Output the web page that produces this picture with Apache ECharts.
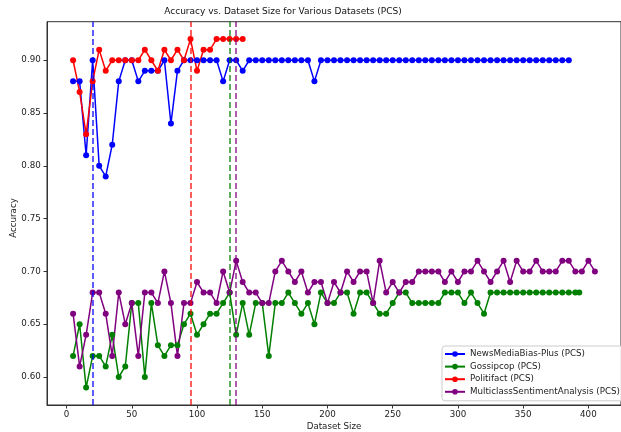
<!DOCTYPE html>
<html>
<head>
<meta charset="utf-8">
<script src="https://cdn.jsdelivr.net/npm/echarts@6/dist/echarts.min.js"></script>
<style>
html,body{margin:0;padding:0;background:#fff;}
#chart{width:621px;height:432px;}
</style>
</head>
<body>
<div id="chart"></div>
<script>
// ---- Data ----
const seriesNames = ["NewsMediaBias-Plus (PCS)", "Gossipcop (PCS)", "Politifact (PCS)", "MulticlassSentimentAnalysis (PCS)"];
const seriesColors = ["#0000ff", "#008000", "#ff0000", "#800080"];

const newsSizes = [5,10,15,20,25,30,35,40,45,50,55,60,65,70,75,80,85,90,95,100,105,110,115,120,125,130,135,140,145,150,155,160,165,170,175,180,185,190,195,200,205,210,215,220,225,230,235,240,245,250,255,260,265,270,275,280,285,290,295,300,305,310,315,320,325,330,335,340,345,350,355,360,365,370,375,380,385];
const newsAcc = [0.88,0.88,0.81,0.90,0.80,0.79,0.82,0.88,0.90,0.90,0.88,0.89,0.89,0.89,0.90,0.84,0.89,0.90,0.90,0.90,0.90,0.90,0.90,0.88,0.90,0.90,0.89,0.90,0.90,0.90,0.90,0.90,0.90,0.90,0.90,0.90,0.90,0.88,0.90,0.90,0.90,0.90,0.90,0.90,0.90,0.90,0.90,0.90,0.90,0.90,0.90,0.90,0.90,0.90,0.90,0.90,0.90,0.90,0.90,0.90,0.90,0.90,0.90,0.90,0.90,0.90,0.90,0.90,0.90,0.90,0.90,0.90,0.90,0.90,0.90,0.90,0.90];

const gossipSizes = [5,10,15,20,25,30,35,40,45,50,55,60,65,70,75,80,85,90,95,100,105,110,115,120,125,130,135,140,145,150,155,160,165,170,175,180,185,190,195,200,205,210,215,220,225,230,235,240,245,250,255,260,265,270,275,280,285,290,295,300,305,310,315,320,325,330,335,340,345,350,355,360,365,370,375,380,385,390,393];
const gossipAcc = [0.62,0.65,0.59,0.62,0.62,0.61,0.64,0.60,0.61,0.67,0.67,0.60,0.67,0.63,0.62,0.63,0.63,0.65,0.66,0.64,0.65,0.66,0.66,0.67,0.68,0.64,0.67,0.64,0.67,0.67,0.62,0.67,0.67,0.68,0.67,0.66,0.67,0.65,0.68,0.67,0.67,0.68,0.68,0.66,0.68,0.68,0.67,0.66,0.66,0.67,0.68,0.68,0.67,0.67,0.67,0.67,0.67,0.68,0.68,0.68,0.67,0.68,0.67,0.66,0.68,0.68,0.68,0.68,0.68,0.68,0.68,0.68,0.68,0.68,0.68,0.68,0.68,0.68,0.68];

const politiSizes = [5,10,15,20,25,30,35,40,45,50,55,60,65,70,75,80,85,90,95,100,105,110,115,120,125,130,135];
const politiAcc = [0.90,0.87,0.83,0.88,0.91,0.89,0.90,0.90,0.90,0.90,0.90,0.91,0.90,0.89,0.91,0.90,0.91,0.90,0.92,0.89,0.91,0.91,0.92,0.92,0.92,0.92,0.92];

const multiSizes = [5,10,15,20,25,30,35,40,45,50,55,60,65,70,75,80,85,90,95,100,105,110,115,120,125,130,135,140,145,150,155,160,165,170,175,180,185,190,195,200,205,210,215,220,225,230,235,240,245,250,255,260,265,270,275,280,285,290,295,300,305,310,315,320,325,330,335,340,345,350,355,360,365,370,375,380,385,390,395,400,405];
const multiAcc = [0.66,0.61,0.64,0.68,0.68,0.66,0.62,0.68,0.65,0.67,0.62,0.68,0.68,0.67,0.70,0.67,0.62,0.67,0.67,0.69,0.68,0.68,0.67,0.70,0.68,0.71,0.69,0.68,0.68,0.67,0.67,0.70,0.71,0.70,0.69,0.70,0.68,0.69,0.69,0.67,0.69,0.68,0.70,0.69,0.70,0.70,0.67,0.71,0.68,0.69,0.68,0.69,0.69,0.70,0.70,0.70,0.70,0.69,0.70,0.69,0.70,0.70,0.71,0.70,0.69,0.70,0.71,0.69,0.71,0.70,0.70,0.71,0.70,0.70,0.70,0.71,0.71,0.70,0.70,0.71,0.70];

// best dataset size per series (vertical dashed lines)
const bestSizes = [20, 125, 95, 130];

const xTicks = [0, 50, 100, 150, 200, 250, 300, 350, 400];
const yTicks = [0.60, 0.65, 0.70, 0.75, 0.80, 0.85, 0.90];

const titleText = "Accuracy vs. Dataset Size for Various Datasets (PCS)";
const xLabel = "Dataset Size";
const yLabel = "Accuracy";

// ---- Build ----
const allSizes = [newsSizes, gossipSizes, politiSizes, multiSizes];
const allAcc = [newsAcc, gossipAcc, politiAcc, multiAcc];
const FONT = "DejaVu Sans";
const FS = 8.7;

const series = seriesNames.map((name, i) => ({
  name: name,
  type: 'line',
  data: allSizes[i].map((x, k) => [x, allAcc[i][k]]),
  symbol: 'circle',
  symbolSize: 6,
  showSymbol: true,
  showAllSymbol: true,
  itemStyle: { color: seriesColors[i] },
  lineStyle: { color: seriesColors[i], width: 1.5 },
  emphasis: { disabled: true },
  markLine: {
    silent: true,
    symbol: ['none', 'none'],
    label: { show: false },
    animation: false,
    lineStyle: { color: seriesColors[i], type: [6, 3], width: 1.5, opacity: 0.85 },
    data: [{ xAxis: bestSizes[i] }]
  },
  animation: false
}));

const chart = echarts.init(document.getElementById('chart'), null, { renderer: 'canvas' });
chart.setOption({
  animation: false,
  textStyle: { fontFamily: FONT },
  grid: {
    left: 47, top: 21.7, width: 578.6, height: 383.3,
    show: true, borderColor: '#333', borderWidth: 1, backgroundColor: 'transparent'
  },
  xAxis: {
    type: 'value', min: -15, max: 425,
    axisLine: { show: true, onZero: false, lineStyle: { color: '#333', width: 1 } },
    axisTick: { show: true, length: 3.5, inside: false, customValues: xTicks, lineStyle: { color: '#333' } },
    axisLabel: { customValues: xTicks, fontSize: FS, color: '#222', margin: 5.5, fontFamily: FONT },
    splitLine: { show: false }
  },
  yAxis: {
    type: 'value', min: 0.5735, max: 0.9365,
    axisLine: { show: true, onZero: false, lineStyle: { color: '#333', width: 1 } },
    axisTick: { show: true, length: 3.5, inside: false, customValues: yTicks, lineStyle: { color: '#333' } },
    axisLabel: { customValues: yTicks, fontSize: FS, color: '#222', margin: 6.3, fontFamily: FONT,
      formatter: v => v.toFixed(2) },
    splitLine: { show: false }
  },
  legend: {
    orient: 'vertical',
    left: 442, top: 346,
    padding: [3, 4, 4, 2],
    itemWidth: 20, itemHeight: 7, itemGap: 2.6,
    backgroundColor: 'rgba(255,255,255,0.85)',
    borderColor: '#cccccc', borderWidth: 1, borderRadius: 3,
    textStyle: { fontSize: FS, color: '#222', fontFamily: FONT, lineHeight: 10 },
    data: seriesNames
  },
  graphic: [
    { type: 'text', silent: true,
      style: { text: titleText, x: 283, y: 12, align: 'center', verticalAlign: 'middle', fontSize: 9, fontFamily: FONT, fill: '#111' } },
    { type: 'text', silent: true,
      style: { text: xLabel, x: 334, y: 426.5, align: 'center', verticalAlign: 'middle', fontSize: FS, fontFamily: FONT, fill: '#222' } },
    { type: 'text', silent: true, x: 14, y: 218, rotation: Math.PI / 2,
      style: { text: yLabel, x: 0, y: 0, align: 'center', verticalAlign: 'middle', fontSize: FS, fontFamily: FONT, fill: '#222' } }
  ],
  series: series
});
</script>
</body>
</html>
